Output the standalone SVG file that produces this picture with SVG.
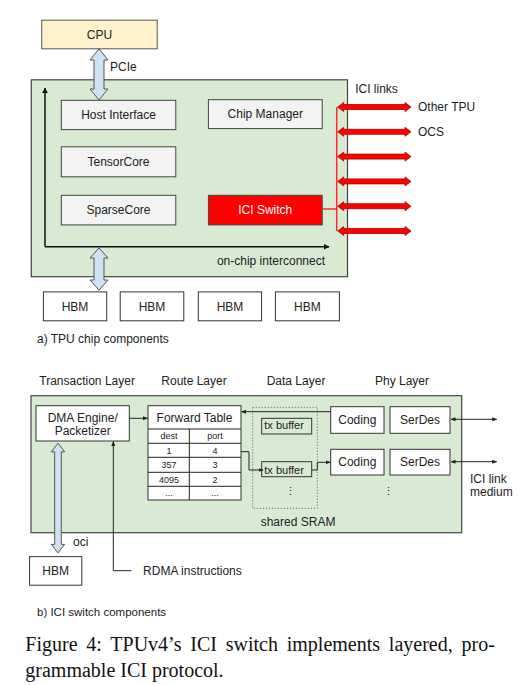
<svg xmlns="http://www.w3.org/2000/svg" width="528" height="685" viewBox="0 0 528 685">
<defs>
<style>
text{font-family:"Liberation Sans",Arial,sans-serif;font-size:12px;fill:#222}
.mid{text-anchor:middle}
.box{fill:#f3f3f3;stroke:#444;stroke-width:1}
.wbox{fill:#fff;stroke:#333;stroke-width:1}
.green{fill:#d9ead3;stroke:#444;stroke-width:1.2}
.blue{fill:#cfe2f3;stroke:#555;stroke-width:1}
.red{fill:#ff0000;stroke:#b00000;stroke-width:0.8}
.ln{fill:none;stroke:#222;stroke-width:1}
.tbl{font-size:9px}
.cap{font-family:"Liberation Serif","Times New Roman",serif;font-size:20px;fill:#111}
</style>
<marker id="ah" viewBox="0 0 10 10" refX="9" refY="5" markerWidth="5" markerHeight="5" orient="auto-start-reverse">
<path d="M0,1 L10,5 L0,9 z" fill="#222"/>
</marker>
<marker id="ahb" viewBox="0 0 10 10" refX="9" refY="5" markerWidth="4" markerHeight="4" orient="auto-start-reverse">
<path d="M0,0 L10,5 L0,10 z" fill="#111"/>
</marker>
<path id="redarrow" class="red" d="M337.7,0 L343.7,-4.5 L343.7,-2.5 L405,-2.5 L405,-4.5 L411,0 L405,4.5 L405,2.5 L343.7,2.5 L343.7,4.5 Z"/>
</defs>

<!-- Part a -->
<g id="chip">
<rect class="green" x="31.3" y="79.8" width="316.2" height="196.9"/>
</g>
<g id="cpu">
<rect x="41.8" y="20.2" width="115.4" height="28.6" fill="#fff2cc" stroke="#555" stroke-width="1"/>
<text class="mid" x="99.5" y="38.8">CPU</text>
</g>
<g id="host-interface">
<rect class="box" x="61.3" y="100.3" width="114.5" height="29.3"/>
<text class="mid" x="118.5" y="119.2">Host Interface</text>
</g>
<g id="chip-manager">
<rect class="box" x="208.4" y="99.7" width="113.8" height="28.9"/>
<text class="mid" x="265.3" y="118.4">Chip Manager</text>
</g>
<g id="tensorcore">
<rect class="box" x="61.3" y="146.8" width="114.5" height="30"/>
<text class="mid" x="118.5" y="166">TensorCore</text>
</g>
<g id="sparsecore">
<rect class="box" x="61.3" y="195.3" width="114.5" height="29.6"/>
<text class="mid" x="118.5" y="214.3">SparseCore</text>
</g>
<g id="ici-switch">
<rect x="208.4" y="195.3" width="113.8" height="29.6" fill="#ff0000" stroke="#444" stroke-width="1"/>
<text class="mid" x="265.3" y="214.3" style="fill:#fff">ICI Switch</text>
</g>
<g id="hbm1"><rect class="wbox" x="43.4" y="291.9" width="63.3" height="28.9"/><text class="mid" x="75" y="310.6">HBM</text></g>
<g id="hbm2"><rect class="wbox" x="120.2" y="291.9" width="63.6" height="28.9"/><text class="mid" x="152" y="310.6">HBM</text></g>
<g id="hbm3"><rect class="wbox" x="198.3" y="291.9" width="63.3" height="28.9"/><text class="mid" x="230" y="310.6">HBM</text></g>
<g id="hbm4"><rect class="wbox" x="275.4" y="291.9" width="64" height="28.9"/><text class="mid" x="307.4" y="310.6">HBM</text></g>

<g id="connectors-a">
<path class="blue" d="M99,48.8 L108,60 L104,60 L104,89 L108,89 L99,100 L90,89 L94,89 L94,60 L90,60 Z"/>
<path class="blue" d="M99,248 L108,258 L104,258 L104,280 L108,280 L99,290.2 L90,280 L94,280 L94,258 L90,258 Z"/>
<polyline points="45,246.8 45,88 " fill="none" stroke="#111" stroke-width="1.5" marker-end="url(#ahb)"/>
<polyline points="45,246.8 329,246.8" fill="none" stroke="#111" stroke-width="1.5" marker-end="url(#ahb)"/>
<line x1="322.2" y1="209" x2="336.7" y2="209" stroke="#ff2a2a" stroke-width="1.5"/>
<line x1="336.7" y1="107" x2="336.7" y2="231" stroke="#ff2a2a" stroke-width="1.5"/>
<use href="#redarrow" transform="translate(0,107)"/>
<use href="#redarrow" transform="translate(0,131.8)"/>
<use href="#redarrow" transform="translate(0,156.6)"/>
<use href="#redarrow" transform="translate(0,181.4)"/>
<use href="#redarrow" transform="translate(0,206.2)"/>
<use href="#redarrow" transform="translate(0,231)"/>
</g>
<text x="110" y="71">PCIe</text>
<text x="325" y="265.3" text-anchor="end">on-chip interconnect</text>
<text x="355.2" y="93.4">ICI links</text>
<text x="418" y="111.3">Other TPU</text>
<text x="418" y="136.2">OCS</text>
<text x="37" y="342.6">a) TPU chip components</text>

<!-- Part b -->
<text x="39.3" y="385.2">Transaction Layer</text>
<text x="161.3" y="385.2">Route Layer</text>
<text x="266.7" y="385.2">Data Layer</text>
<text x="375" y="385.2">Phy Layer</text>

<g id="switch">
<rect class="green" x="31" y="395.7" width="430.7" height="137"/>
</g>
<g id="dma-engine">
<rect class="wbox" x="36" y="405.7" width="93.3" height="35.3"/>
<text class="mid" x="82.7" y="422.3">DMA Engine/</text>
<text class="mid" x="82.7" y="435.3">Packetizer</text>
</g>
<g id="forward-table">
<rect class="wbox" x="148" y="405.7" width="93" height="94.3"/>
<text class="mid" x="194.5" y="421.8">Forward Table</text>
<path class="ln" d="M148,429 H241 M148,443.3 H241 M148,457.3 H241 M148,472.3 H241 M148,486.3 H241 M189.3,429 V500"/>
<text class="mid tbl" x="169" y="439.2">dest</text><text class="mid tbl" x="215" y="439.2">port</text>
<text class="mid tbl" x="169" y="453.5">1</text><text class="mid tbl" x="215" y="453.5">4</text>
<text class="mid tbl" x="169" y="468">357</text><text class="mid tbl" x="215" y="468">3</text>
<text class="mid tbl" x="169" y="482.5">4095</text><text class="mid tbl" x="215" y="482.5">2</text>
<text class="mid tbl" x="169" y="496">...</text><text class="mid tbl" x="215" y="496">...</text>
</g>
<g id="shared-sram">
<rect x="252.7" y="407.3" width="64.6" height="101" fill="none" stroke="#555" stroke-width="1" stroke-dasharray="1,2"/>
<text x="260.7" y="525.8">shared SRAM</text>
</g>
<g id="tx-buffer-1">
<rect x="261.7" y="418.3" width="50" height="15.7" fill="none" stroke="#333" stroke-width="1"/>
<text x="264.3" y="429" style="font-size:11px">tx buffer</text>
</g>
<g id="tx-buffer-2">
<rect x="261.7" y="461.7" width="50" height="15" fill="none" stroke="#333" stroke-width="1"/>
<text x="264.3" y="474" style="font-size:11px">tx buffer</text>
</g>
<text class="mid" x="290.7" y="495" style="font-size:11px">⋮</text>
<text class="mid" x="388" y="495" style="font-size:11px">⋮</text>
<g id="coding-1"><rect class="wbox" x="330.7" y="406.7" width="53.3" height="26.6"/><text class="mid" x="357.3" y="424.3">Coding</text></g>
<g id="serdes-1"><rect class="wbox" x="390" y="406.7" width="60" height="26.6"/><text class="mid" x="420" y="424.3">SerDes</text></g>
<g id="coding-2"><rect class="wbox" x="330.7" y="449.3" width="53.3" height="25.7"/><text class="mid" x="357.3" y="466.4">Coding</text></g>
<g id="serdes-2"><rect class="wbox" x="390" y="449.3" width="60" height="25.7"/><text class="mid" x="420" y="466.4">SerDes</text></g>
<g id="hbm-b"><rect class="wbox" x="29.6" y="556.6" width="52.2" height="28.6"/><text class="mid" x="55.7" y="575.2">HBM</text></g>

<g id="connectors-b">
<line class="ln" x1="129.3" y1="418.3" x2="147.5" y2="418.3" marker-end="url(#ah)"/>
<line class="ln" x1="330.7" y1="411.7" x2="241.5" y2="411.7" marker-end="url(#ah)"/>
<polyline class="ln" points="241,451.7 249,451.7 249,470 263,470" marker-end="url(#ah)"/>
<polyline class="ln" points="311.7,470 317.3,470 317.3,462.3 330.2,462.3" marker-end="url(#ah)"/>
<line class="ln" x1="451" y1="419.3" x2="496.7" y2="419.3" marker-start="url(#ah)" marker-end="url(#ah)"/>
<line class="ln" x1="451" y1="461.7" x2="496.7" y2="461.7" marker-start="url(#ah)" marker-end="url(#ah)"/>
<path class="blue" d="M58,443.3 L64.7,451.8 L61.3,451.8 L61.3,544.4 L64.7,544.4 L58,552.9 L51.3,544.4 L54.7,544.4 L54.7,451.8 L51.3,451.8 Z"/>
<polyline class="ln" points="131.3,570.7 113.3,570.7 113.3,441.5" marker-end="url(#ah)"/>
</g>
<text x="470" y="482.5">ICI link</text>
<text x="470" y="495.9">medium</text>
<text x="73" y="546.2">oci</text>
<text x="143.1" y="574.9">RDMA instructions</text>
<text x="37" y="615.6" style="font-size:11.5px">b) ICI switch components</text>

<!-- Caption -->
<text class="cap" x="25.3" y="650.5" word-spacing="3.8">Figure 4: TPUv4’s ICI switch implements layered, pro-</text>
<text class="cap" x="25.3" y="676.8">grammable ICI protocol.</text>
</svg>
